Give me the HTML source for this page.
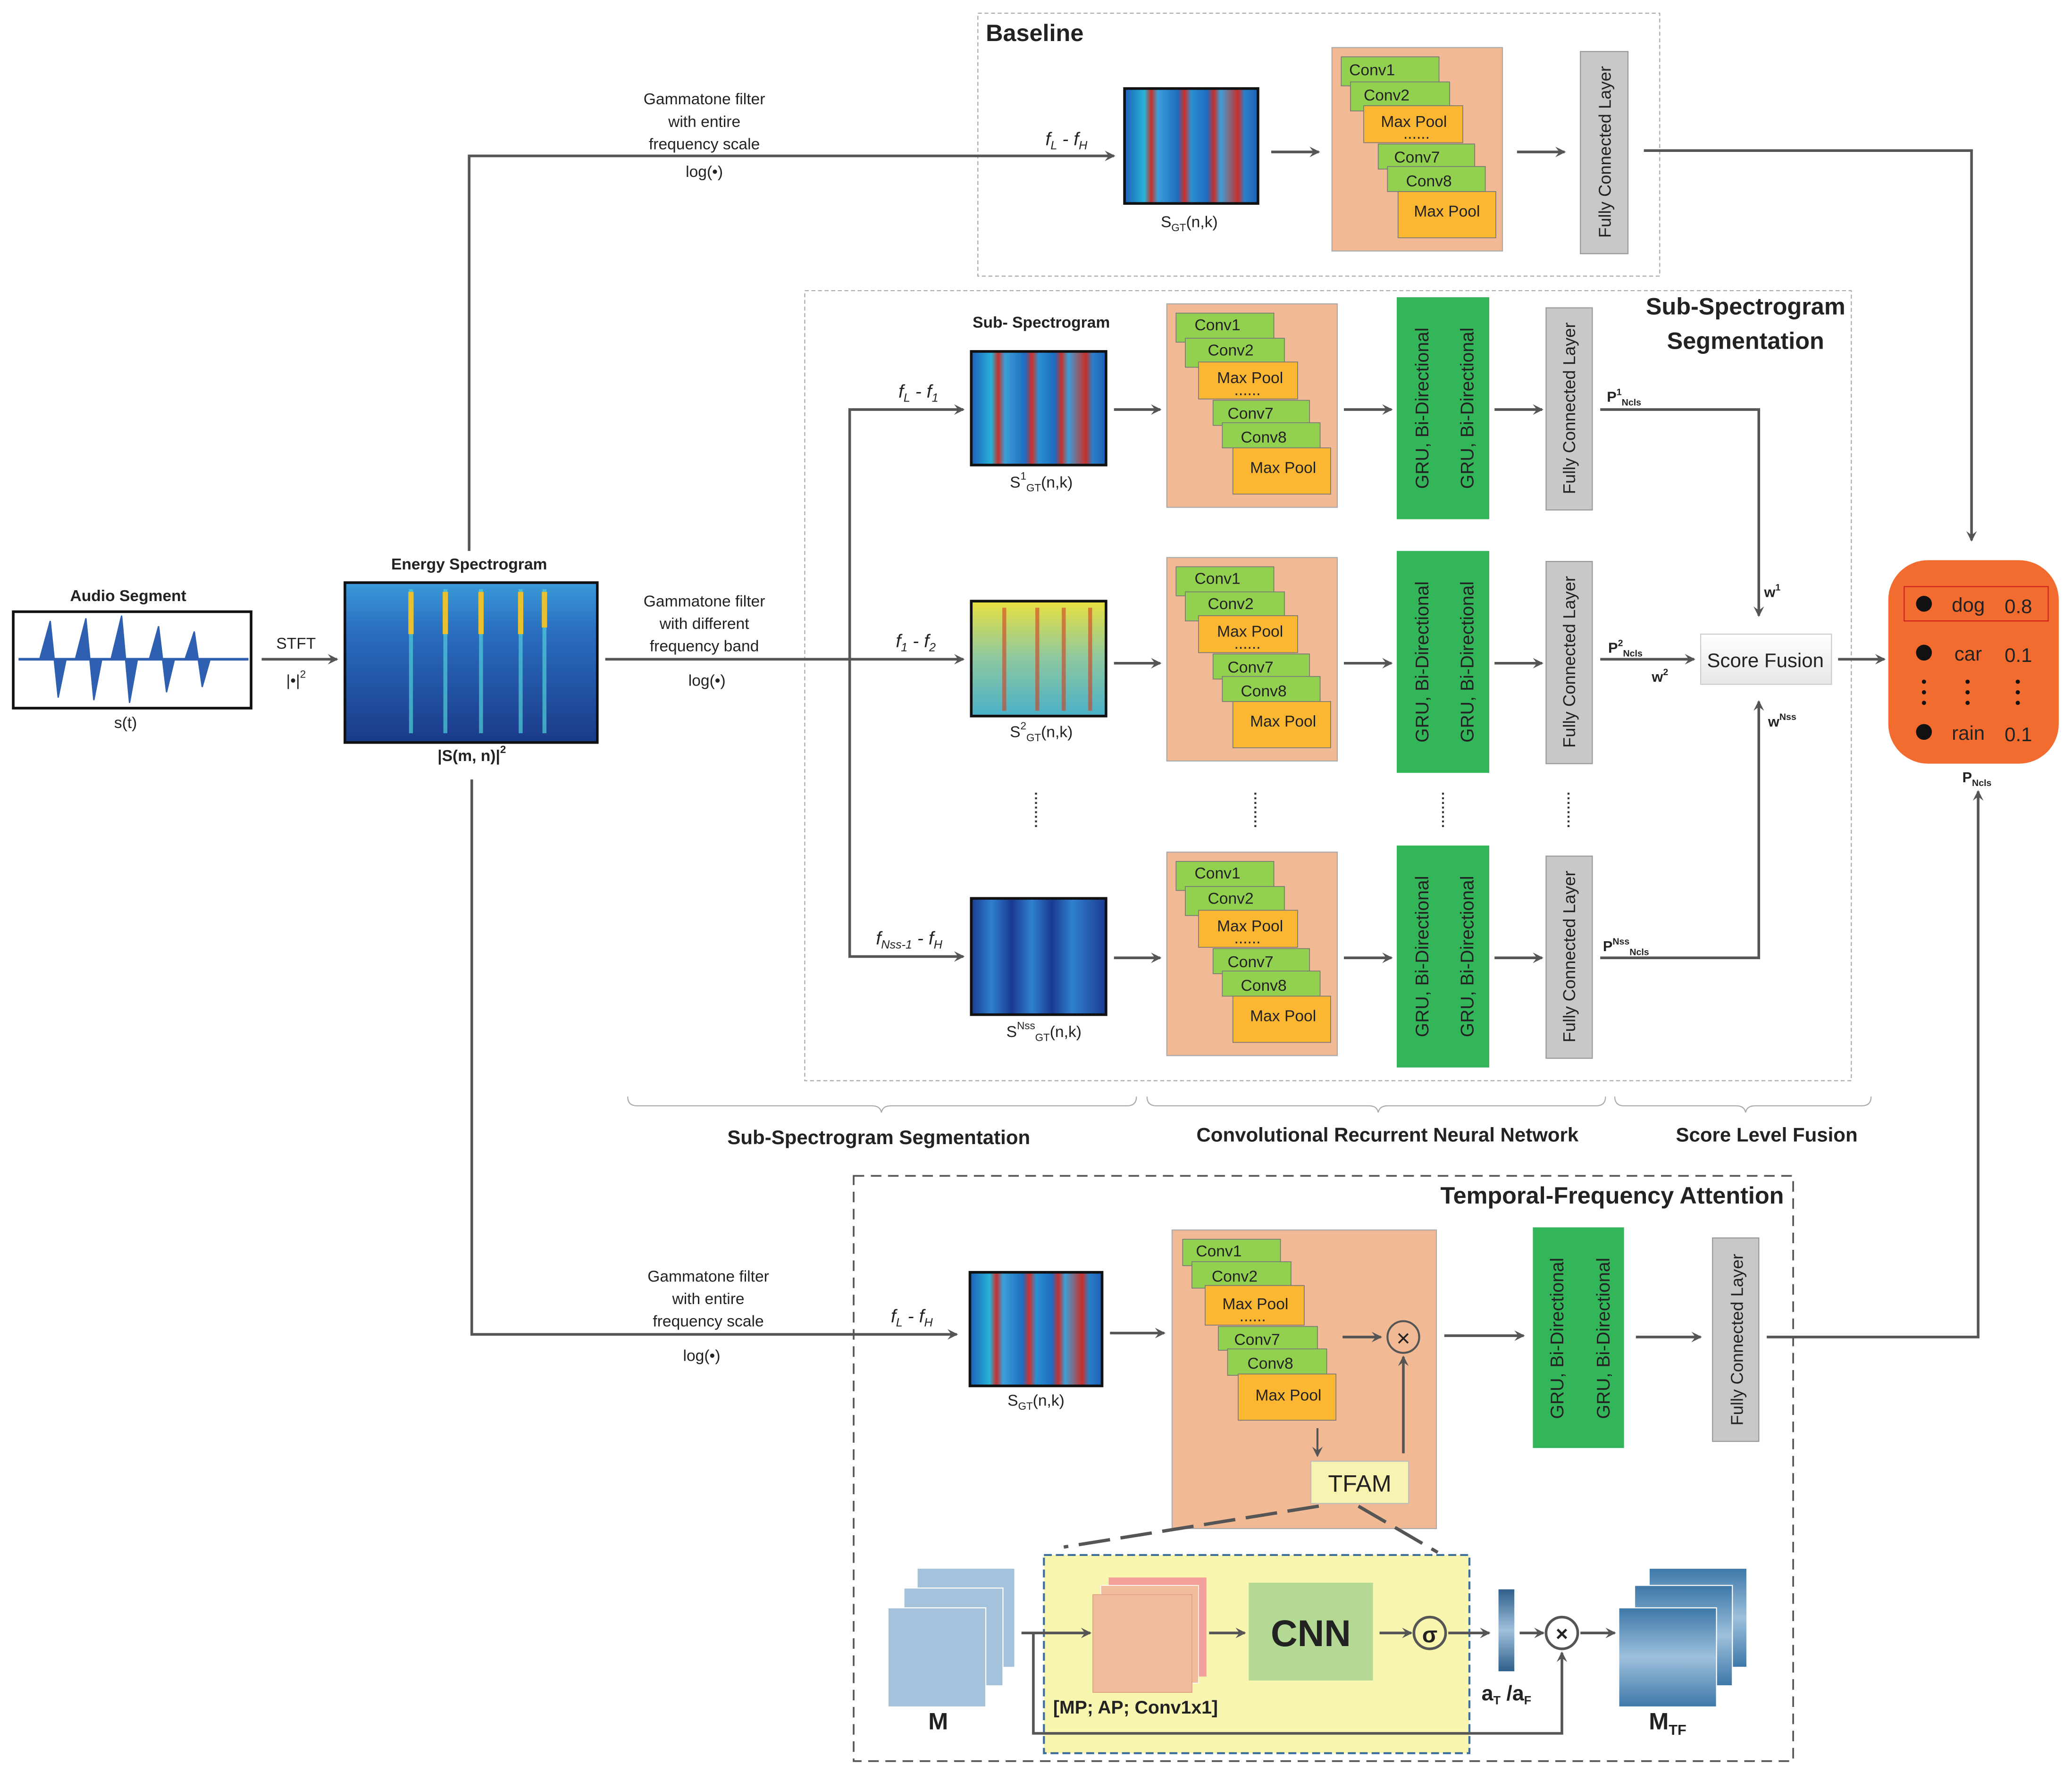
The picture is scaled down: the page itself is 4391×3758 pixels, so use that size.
<!DOCTYPE html>
<html><head><meta charset="utf-8"><style>
html,body{margin:0;padding:0;background:#fff}
svg{display:block}
text{font-family:"Liberation Sans Narrow","Liberation Sans",sans-serif;fill:#222}
.b{font-weight:bold}
</style></head><body>
<svg width="4391" height="3758" viewBox="0 0 1568 1342" xmlns="http://www.w3.org/2000/svg">
<defs>
<marker id="ar" markerWidth="8" markerHeight="8" refX="7" refY="4" orient="auto" markerUnits="userSpaceOnUse"><path d="M0,0 L8,4 L0,8 L3,4 z" fill="#555"/></marker>
<linearGradient id="spA" x1="0" x2="1" y1="0" y2="0">
<stop offset="0" stop-color="#1e5fb8"/><stop offset="0.15" stop-color="#27b3d8"/><stop offset="0.2" stop-color="#c8302a"/><stop offset="0.25" stop-color="#3aa0d8"/><stop offset="0.4" stop-color="#1e6cc0"/><stop offset="0.45" stop-color="#d0302a"/><stop offset="0.5" stop-color="#2a90d0"/><stop offset="0.62" stop-color="#1e6cc0"/><stop offset="0.67" stop-color="#c8302a"/><stop offset="0.72" stop-color="#3aa0d8"/><stop offset="0.85" stop-color="#c8302a"/><stop offset="0.9" stop-color="#2a80c8"/><stop offset="1" stop-color="#1e5fb8"/></linearGradient>
<linearGradient id="spB" x1="0" x2="0" y1="0" y2="1"><stop offset="0" stop-color="#e8e040"/><stop offset="0.5" stop-color="#8cc8a0"/><stop offset="1" stop-color="#4ab0c8"/></linearGradient>
<linearGradient id="spC" x1="0" x2="1"><stop offset="0" stop-color="#1a3a90"/><stop offset="0.15" stop-color="#3080d0"/><stop offset="0.3" stop-color="#1a3a90"/><stop offset="0.45" stop-color="#3080d0"/><stop offset="0.6" stop-color="#1a3a90"/><stop offset="0.75" stop-color="#3080d0"/><stop offset="1" stop-color="#1a3a90"/></linearGradient>
<linearGradient id="en" x1="0" x2="0" y1="0" y2="1"><stop offset="0" stop-color="#3a9ad8"/><stop offset="0.3" stop-color="#2a6ec0"/><stop offset="1" stop-color="#1a3a88"/></linearGradient>
<linearGradient id="bar" x1="0" x2="0" y1="0" y2="1"><stop offset="0" stop-color="#2e5f8a"/><stop offset="0.5" stop-color="#a0c0dc"/><stop offset="1" stop-color="#2e5f8a"/></linearGradient>
<linearGradient id="mtf" x1="0" x2="0" y1="0" y2="1"><stop offset="0" stop-color="#3d78a8"/><stop offset="0.5" stop-color="#9dc0dc"/><stop offset="1" stop-color="#3d78a8"/></linearGradient>
<linearGradient id="sf" x1="0" x2="0" y1="0" y2="1"><stop offset="0" stop-color="#fff"/><stop offset="1" stop-color="#e6e6e6"/></linearGradient>
</defs>

<rect x="740" y="10" width="516" height="199" fill="none" stroke="#aaa" stroke-dasharray="3,2" stroke-width="0.8"/>
<rect x="609" y="220" width="792" height="598" fill="none" stroke="#aaa" stroke-dasharray="3,2" stroke-width="0.8"/>
<rect x="646" y="890" width="711" height="443" fill="none" stroke="#555" stroke-dasharray="8,5" stroke-width="1.3"/>
<text x="746" y="31" class="b" font-size="18">Baseline</text>
<text x="1321" y="238" class="b" font-size="18" text-anchor="middle">Sub-Spectrogram</text>
<text x="1321" y="264" class="b" font-size="18" text-anchor="middle">Segmentation</text>
<text x="1350" y="911" class="b" font-size="18" text-anchor="end">Temporal-Frequency Attention</text>

<text x="97" y="455" class="b" font-size="12" text-anchor="middle">Audio Segment</text>
<rect x="10" y="463" width="180" height="73" fill="#fff" stroke="#111" stroke-width="2"/>
<path d="M14,499 H188" stroke="#2f5fb0" stroke-width="2"/>
<path d="M30,499 L38,470 L44,528 L50,499 Z M57,499 L65,468 L71,530 L77,499 Z M84,499 L92,466 L98,532 L104,499 Z M113,499 L120,474 L126,524 L132,499 Z M140,499 L147,478 L153,520 L159,499 Z" fill="#2f5fb0" stroke="#2f5fb0" stroke-width="1"/>
<text x="95" y="551" font-size="12" text-anchor="middle">s(t)</text>
<line x1="198" y1="499" x2="255" y2="499" stroke="#555" stroke-width="2" marker-end="url(#ar)"/>
<text x="224" y="491" font-size="12" text-anchor="middle">STFT</text>
<text x="224" y="519" font-size="12" text-anchor="middle">|•|<tspan font-size="8" dy="-6">2</tspan></text>

<text x="355" y="431" class="b" font-size="12" text-anchor="middle">Energy Spectrogram</text>
<rect x="261" y="441" width="191" height="121" fill="url(#en)" stroke="#111" stroke-width="2"/>
<path d="M311,446 V555 M337,446 V555 M364,446 V555 M394,446 V555 M412,446 V555" stroke="#4fd0d8" stroke-width="3" opacity="0.7"/>
<path d="M311,448 V480 M337,448 V480 M364,448 V480 M394,448 V480 M412,448 V475" stroke="#e8c030" stroke-width="4"/>
<text x="357" y="576" class="b" font-size="12" text-anchor="middle">|S(m, n)|<tspan font-size="8" dy="-6">2</tspan></text>

<polyline points="355,417 355,118 843,118" fill="none" stroke="#555" stroke-width="2" marker-end="url(#ar)"/>
<g font-size="12" text-anchor="middle"><text x="533" y="79">Gammatone filter</text><text x="533" y="96">with entire</text><text x="533" y="113">frequency scale</text><text x="533" y="134">log(•)</text></g>
<text x="807" y="110" font-size="14" font-style="italic" text-anchor="middle">f<tspan font-size="9" dy="3">L</tspan><tspan dy="-3"> - f</tspan><tspan font-size="9" dy="3">H</tspan></text>
<rect x="851" y="67" width="101" height="87" fill="url(#spA)" stroke="#111" stroke-width="2"/>
<text x="900" y="172" font-size="12" text-anchor="middle">S<tspan font-size="8" dy="3">GT</tspan><tspan dy="-3">(n,k)</tspan></text>
<line x1="962" y1="115" x2="998" y2="115" stroke="#555" stroke-width="2" marker-end="url(#ar)"/>

<rect x="1008" y="36" width="129" height="154" fill="#f2b995" stroke="#aaa" stroke-width="0.8"/>
<rect x="1015" y="43" width="74" height="22" fill="#92d050" stroke="#777" stroke-width="0.6"/>
<rect x="1022" y="62" width="75" height="22" fill="#92d050" stroke="#777" stroke-width="0.6"/>
<rect x="1032" y="80" width="75" height="28" fill="#fbb731" stroke="#777" stroke-width="0.6"/>
<rect x="1043" y="109" width="73" height="19" fill="#92d050" stroke="#777" stroke-width="0.6"/>
<rect x="1050" y="126" width="74" height="19" fill="#92d050" stroke="#777" stroke-width="0.6"/>
<rect x="1058" y="145" width="74" height="35" fill="#fbb731" stroke="#777" stroke-width="0.6"/>
<g font-size="12"><text x="1021" y="57">Conv1</text><text x="1032" y="76">Conv2</text><text x="1045" y="96">Max Pool</text><text x="1062" y="105">......</text><text x="1055" y="123">Conv7</text><text x="1064" y="141">Conv8</text><text x="1070" y="164">Max Pool</text></g>
<line x1="1148" y1="115" x2="1184" y2="115" stroke="#555" stroke-width="2" marker-end="url(#ar)"/>
<rect x="1196" y="39" width="36" height="153" fill="#c8c8c8" stroke="#999" stroke-width="0.8"/>
<text transform="translate(1219,115) rotate(-90)" font-size="13" text-anchor="middle" font-family="Liberation Sans,sans-serif">Fully Connected Layer</text>
<polyline points="1244,114 1492,114 1492,409" fill="none" stroke="#555" stroke-width="2" marker-end="url(#ar)"/>

<text x="788" y="248" class="b" font-size="12" text-anchor="middle">Sub- Spectrogram</text>
<line x1="458" y1="499" x2="729" y2="499" stroke="#555" stroke-width="2" marker-end="url(#ar)"/>
<polyline points="643,499 643,310 729,310" fill="none" stroke="#555" stroke-width="2" marker-end="url(#ar)"/>
<polyline points="643,499 643,724 729,724" fill="none" stroke="#555" stroke-width="2" marker-end="url(#ar)"/>
<g font-size="12" text-anchor="middle"><text x="533" y="459">Gammatone filter</text><text x="533" y="476">with different</text><text x="533" y="493">frequency band</text><text x="535" y="519">log(•)</text></g>
<text x="695" y="301" font-size="14" font-style="italic" text-anchor="middle">f<tspan font-size="9" dy="3">L</tspan><tspan dy="-3"> - f</tspan><tspan font-size="9" dy="3">1</tspan></text>
<text x="693" y="490" font-size="14" font-style="italic" text-anchor="middle">f<tspan font-size="9" dy="3">1</tspan><tspan dy="-3"> - f</tspan><tspan font-size="9" dy="3">2</tspan></text>
<text x="688" y="715" font-size="14" font-style="italic" text-anchor="middle">f<tspan font-size="9" dy="3">Nss-1</tspan><tspan dy="-3"> - f</tspan><tspan font-size="9" dy="3">H</tspan></text>

<rect x="735" y="266" width="102" height="86" fill="url(#spA)" stroke="#111" stroke-width="2"/>
<rect x="735" y="455" width="102" height="87" fill="url(#spB)" stroke="#111" stroke-width="2"/>
<path d="M760,460 V538 M785,460 V538 M805,460 V538 M825,460 V538" stroke="#d04020" stroke-width="3" opacity="0.6"/>
<rect x="735" y="680" width="102" height="88" fill="url(#spC)" stroke="#111" stroke-width="2"/>
<g font-size="12" text-anchor="middle">
<text x="788" y="369">S<tspan font-size="8" dy="-6">1</tspan><tspan font-size="8" dy="9">GT</tspan><tspan dy="-3">(n,k)</tspan></text>
<text x="788" y="558">S<tspan font-size="8" dy="-6">2</tspan><tspan font-size="8" dy="9">GT</tspan><tspan dy="-3">(n,k)</tspan></text>
<text x="790" y="785">S<tspan font-size="8" dy="-6">Nss</tspan><tspan font-size="8" dy="9">GT</tspan><tspan dy="-3">(n,k)</tspan></text>
</g>

<g id="row1">
<line x1="843" y1="310" x2="878" y2="310" stroke="#555" stroke-width="2" marker-end="url(#ar)"/>
<rect x="883" y="230" width="129" height="154" fill="#f2b995" stroke="#aaa" stroke-width="0.8"/>
<rect x="890" y="237" width="74" height="22" fill="#92d050" stroke="#777" stroke-width="0.6"/>
<rect x="897" y="256" width="75" height="22" fill="#92d050" stroke="#777" stroke-width="0.6"/>
<rect x="907" y="274" width="75" height="28" fill="#fbb731" stroke="#777" stroke-width="0.6"/>
<rect x="918" y="303" width="73" height="19" fill="#92d050" stroke="#777" stroke-width="0.6"/>
<rect x="925" y="320" width="74" height="19" fill="#92d050" stroke="#777" stroke-width="0.6"/>
<rect x="933" y="339" width="74" height="35" fill="#fbb731" stroke="#777" stroke-width="0.6"/>
<g font-size="12"><text x="904" y="250">Conv1</text><text x="914" y="269">Conv2</text><text x="921" y="290">Max Pool</text><text x="934" y="299">......</text><text x="929" y="317">Conv7</text><text x="939" y="335">Conv8</text><text x="946" y="358">Max Pool</text></g>
<line x1="1017" y1="310" x2="1053" y2="310" stroke="#555" stroke-width="2" marker-end="url(#ar)"/>
<rect x="1057" y="225" width="70" height="168" fill="#33b55a"/>
<text transform="translate(1081,309) rotate(-90)" font-size="14" text-anchor="middle" font-family="Liberation Sans,sans-serif">GRU, Bi-Directional</text>
<text transform="translate(1115,309) rotate(-90)" font-size="14" text-anchor="middle" font-family="Liberation Sans,sans-serif">GRU, Bi-Directional</text>
<line x1="1131" y1="310" x2="1167" y2="310" stroke="#555" stroke-width="2" marker-end="url(#ar)"/>
<rect x="1170" y="233" width="35" height="153" fill="#c8c8c8" stroke="#999" stroke-width="0.8"/>
<text transform="translate(1192,309) rotate(-90)" font-size="13" text-anchor="middle" font-family="Liberation Sans,sans-serif">Fully Connected Layer</text>
</g>
<use href="#row1" transform="translate(0,192)"/>
<use href="#row1" transform="translate(0,415)"/>

<g stroke="#333" stroke-width="1.5" stroke-dasharray="1.5,2"><line x1="784" y1="600" x2="784" y2="626"/><line x1="950" y1="600" x2="950" y2="626"/><line x1="1092" y1="600" x2="1092" y2="626"/><line x1="1187" y1="600" x2="1187" y2="626"/></g>

<polyline points="1211,310 1331,310 1331,466" fill="none" stroke="#555" stroke-width="2" marker-end="url(#ar)"/>
<polyline points="1211,725 1331,725 1331,531" fill="none" stroke="#555" stroke-width="2" marker-end="url(#ar)"/>
<line x1="1211" y1="499" x2="1282" y2="499" stroke="#555" stroke-width="2" marker-end="url(#ar)"/>
<g font-size="11" font-weight="bold">
<text x="1216" y="304">P<tspan font-size="7" dy="-5">1</tspan><tspan font-size="7" dy="8">Ncls</tspan></text>
<text x="1217" y="494">P<tspan font-size="7" dy="-5">2</tspan><tspan font-size="7" dy="8">Ncls</tspan></text>
<text x="1213" y="720">P<tspan font-size="7" dy="-5">Nss</tspan><tspan font-size="7" dy="8">Ncls</tspan></text>
<text x="1335" y="452">w<tspan font-size="7" dy="-5">1</tspan></text>
<text x="1250" y="516">w<tspan font-size="7" dy="-5">2</tspan></text>
<text x="1338" y="550">w<tspan font-size="7" dy="-5">Nss</tspan></text>
</g>
<rect x="1287" y="480" width="99" height="38" fill="url(#sf)" stroke="#ccc" stroke-width="0.8"/>
<text x="1336" y="505" font-size="15" text-anchor="middle" font-family="Liberation Sans,sans-serif">Score Fusion</text>
<line x1="1391" y1="499" x2="1426" y2="499" stroke="#555" stroke-width="2" marker-end="url(#ar)"/>

<rect x="1429" y="424" width="129" height="154" rx="30" fill="#f26b2f"/>
<rect x="1441" y="444" width="109" height="26" fill="none" stroke="#d02020" stroke-width="0.8"/>
<g font-size="15" fill="#222" font-family="Liberation Sans,sans-serif">
<circle cx="1456" cy="457" r="6" fill="#111"/><text x="1477" y="463">dog</text><text x="1517" y="464">0.8</text>
<circle cx="1456" cy="494" r="6" fill="#111"/><text x="1479" y="500">car</text><text x="1517" y="501">0.1</text>
<circle cx="1456" cy="554" r="6" fill="#111"/><text x="1477" y="560">rain</text><text x="1517" y="561">0.1</text>
</g>
<g fill="#111"><circle cx="1456" cy="516" r="1.6"/><circle cx="1456" cy="524" r="1.6"/><circle cx="1456" cy="532" r="1.6"/>
<circle cx="1489" cy="516" r="1.6"/><circle cx="1489" cy="524" r="1.6"/><circle cx="1489" cy="532" r="1.6"/>
<circle cx="1527" cy="516" r="1.6"/><circle cx="1527" cy="524" r="1.6"/><circle cx="1527" cy="532" r="1.6"/></g>
<text x="1485" y="592" font-size="11" font-weight="bold">P<tspan font-size="7" dy="3">Ncls</tspan></text>
<polyline points="1337,1012 1497,1012 1497,599" fill="none" stroke="#555" stroke-width="2" marker-end="url(#ar)"/>

<g fill="none" stroke="#aaa" stroke-width="0.8">
<path d="M475,830 q0,7 7,7 H660 q6,0 7,5 q1,-5 7,-5 H853 q7,0 7,-7"/>
<path d="M868,830 q0,7 7,7 H1036 q6,0 7,5 q1,-5 7,-5 H1208 q7,0 7,-7"/>
<path d="M1222,830 q0,7 7,7 H1314 q6,0 7,5 q1,-5 7,-5 H1409 q7,0 7,-7"/>
</g>
<g font-size="15" font-weight="bold" text-anchor="middle">
<text x="665" y="866">Sub-Spectrogram Segmentation</text>
<text x="1050" y="864">Convolutional Recurrent Neural Network</text>
<text x="1337" y="864">Score Level Fusion</text>
</g>

<polyline points="357,590 357,1010 724,1010" fill="none" stroke="#555" stroke-width="2" marker-end="url(#ar)"/>
<g font-size="12" text-anchor="middle"><text x="536" y="970">Gammatone filter</text><text x="536" y="987">with entire</text><text x="536" y="1004">frequency scale</text><text x="531" y="1030">log(•)</text></g>
<text x="690" y="1001" font-size="14" font-style="italic" text-anchor="middle">f<tspan font-size="9" dy="3">L</tspan><tspan dy="-3"> - f</tspan><tspan font-size="9" dy="3">H</tspan></text>
<rect x="734" y="963" width="100" height="86" fill="url(#spA)" stroke="#111" stroke-width="2"/>
<text x="784" y="1064" font-size="12" text-anchor="middle">S<tspan font-size="8" dy="3">GT</tspan><tspan dy="-3">(n,k)</tspan></text>
<line x1="840" y1="1009" x2="881" y2="1009" stroke="#555" stroke-width="2" marker-end="url(#ar)"/>
<rect x="887" y="931" width="200" height="226" fill="#f2b995" stroke="#aaa" stroke-width="0.8"/>
<rect x="895" y="938" width="74" height="20" fill="#92d050" stroke="#777" stroke-width="0.6"/>
<rect x="902" y="955" width="75" height="20" fill="#92d050" stroke="#777" stroke-width="0.6"/>
<rect x="912" y="973" width="75" height="30" fill="#fbb731" stroke="#777" stroke-width="0.6"/>
<rect x="922" y="1004" width="75" height="18" fill="#92d050" stroke="#777" stroke-width="0.6"/>
<rect x="929" y="1021" width="75" height="20" fill="#92d050" stroke="#777" stroke-width="0.6"/>
<rect x="937" y="1040" width="74" height="35" fill="#fbb731" stroke="#777" stroke-width="0.6"/>
<g font-size="12"><text x="905" y="951">Conv1</text><text x="917" y="970">Conv2</text><text x="925" y="991">Max Pool</text><text x="938" y="1000">......</text><text x="934" y="1018">Conv7</text><text x="944" y="1036">Conv8</text><text x="950" y="1060">Max Pool</text></g>
<line x1="1016" y1="1012" x2="1045" y2="1012" stroke="#555" stroke-width="2" marker-end="url(#ar)"/>
<circle cx="1062" cy="1012" r="12" fill="#f2b995" stroke="#555" stroke-width="1.5"/>
<text x="1062" y="1019" font-size="18" text-anchor="middle">×</text>
<line x1="1062" y1="1100" x2="1062" y2="1027" stroke="#555" stroke-width="2" marker-end="url(#ar)"/>
<line x1="997" y1="1081" x2="997" y2="1102" stroke="#555" stroke-width="1.5" marker-end="url(#ar)"/>
<rect x="992" y="1106" width="74" height="32" fill="#f8f3b0" stroke="#bbb" stroke-width="0.8"/>
<text x="1029" y="1129" font-size="18" text-anchor="middle">TFAM</text>
<line x1="1093" y1="1011" x2="1153" y2="1011" stroke="#555" stroke-width="2" marker-end="url(#ar)"/>
<rect x="1160" y="929" width="69" height="167" fill="#33b55a"/>
<text transform="translate(1183,1013) rotate(-90)" font-size="14" text-anchor="middle" font-family="Liberation Sans,sans-serif">GRU, Bi-Directional</text>
<text transform="translate(1218,1013) rotate(-90)" font-size="14" text-anchor="middle" font-family="Liberation Sans,sans-serif">GRU, Bi-Directional</text>
<line x1="1238" y1="1012" x2="1287" y2="1012" stroke="#555" stroke-width="2" marker-end="url(#ar)"/>
<rect x="1296" y="937" width="35" height="154" fill="#c8c8c8" stroke="#999" stroke-width="0.8"/>
<text transform="translate(1319,1014) rotate(-90)" font-size="13" text-anchor="middle" font-family="Liberation Sans,sans-serif">Fully Connected Layer</text>

<g stroke="#555" stroke-width="2.5" stroke-dasharray="24,8" fill="none">
<line x1="998" y1="1140" x2="805" y2="1171"/>
<line x1="1028" y1="1140" x2="1088" y2="1175"/>
</g>

<rect x="790" y="1177" width="322" height="150" fill="#f7f5ae" stroke="#3e6f9a" stroke-width="1.5" stroke-dasharray="6,3"/>
<rect x="694" y="1187" width="74" height="75" fill="#a4c2db" stroke="#fff" stroke-width="0.8"/>
<rect x="684" y="1202" width="75" height="74" fill="#a4c2db" stroke="#fff" stroke-width="0.8"/>
<rect x="672" y="1217" width="74" height="75" fill="#a4c2db" stroke="#fff" stroke-width="0.8"/>
<text x="710" y="1309" font-size="18" font-weight="bold" text-anchor="middle">M</text>
<line x1="773" y1="1236" x2="825" y2="1236" stroke="#555" stroke-width="2" marker-end="url(#ar)"/>
<polyline points="782,1236 782,1312 1182,1312 1182,1251" fill="none" stroke="#555" stroke-width="2" marker-end="url(#ar)"/>
<rect x="839" y="1194" width="74" height="75" fill="#f4a09a"/>
<rect x="833" y="1200" width="74" height="74" fill="#f1bc9d" stroke="#fff" stroke-width="0.6"/>
<rect x="827" y="1207" width="75" height="74" fill="#f1bc9d" stroke="#e0a080" stroke-width="0.6"/>
<text x="797" y="1297" font-size="14" font-weight="bold">[MP; AP; Conv1x1]</text>
<line x1="915" y1="1236" x2="942" y2="1236" stroke="#555" stroke-width="2" marker-end="url(#ar)"/>
<rect x="945" y="1198" width="94" height="74" fill="#b4d994"/>
<text x="992" y="1246" font-size="28" font-weight="bold" text-anchor="middle">CNN</text>
<line x1="1044" y1="1236" x2="1068" y2="1236" stroke="#555" stroke-width="2" marker-end="url(#ar)"/>
<circle cx="1082" cy="1236" r="12" fill="#f7f5ae" stroke="#555" stroke-width="2"/>
<text x="1082" y="1243" font-size="17" font-weight="bold" text-anchor="middle">σ</text>
<line x1="1096" y1="1236" x2="1127" y2="1236" stroke="#555" stroke-width="2" marker-end="url(#ar)"/>
<rect x="1134" y="1203" width="12" height="62" fill="url(#bar)"/>
<text x="1140" y="1287" font-size="16" font-weight="bold" text-anchor="middle">a<tspan font-size="9" dy="3">T</tspan><tspan dy="-3"> /a</tspan><tspan font-size="9" dy="3">F</tspan></text>
<line x1="1150" y1="1236" x2="1168" y2="1236" stroke="#555" stroke-width="2" marker-end="url(#ar)"/>
<circle cx="1182" cy="1236" r="12" fill="#fff" stroke="#555" stroke-width="2"/>
<text x="1182" y="1242" font-size="16" font-weight="bold" text-anchor="middle">×</text>
<line x1="1196" y1="1236" x2="1222" y2="1236" stroke="#555" stroke-width="2" marker-end="url(#ar)"/>
<rect x="1248" y="1187" width="74" height="75" fill="url(#mtf)" stroke="#fff" stroke-width="0.8"/>
<rect x="1237" y="1200" width="74" height="76" fill="url(#mtf)" stroke="#fff" stroke-width="0.8"/>
<rect x="1225" y="1217" width="74" height="75" fill="url(#mtf)" stroke="#fff" stroke-width="0.8"/>
<text x="1262" y="1309" font-size="18" font-weight="bold" text-anchor="middle">M<tspan font-size="11" dy="4">TF</tspan></text>
</svg>
</body></html>
